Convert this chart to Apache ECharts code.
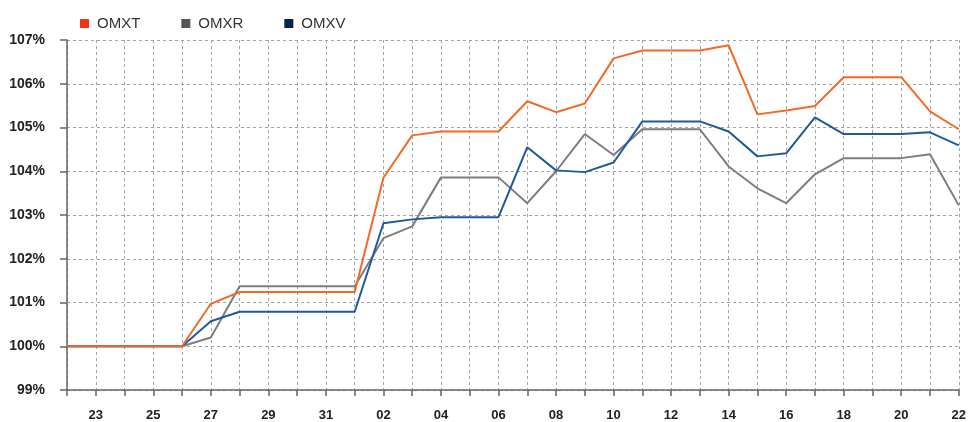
<!DOCTYPE html>
<html>
<head>
<meta charset="utf-8">
<script src="https://cdn.jsdelivr.net/npm/echarts@6/dist/echarts.min.js"></script>
<style>html,body{margin:0;padding:0;background:#fff}#c{width:969px;height:422px}</style>
</head>
<body>
<div id="c"></div>
<script>
var categories = ['22','23','24','25','26','27','28','29','30','31','01','02','03','04','05','06','07','08','09','10','11','12','13','14','15','16','17','18','19','20','21','22'];
var omxt = [100,100,100,100,100,100.97,101.24,101.24,101.24,101.24,101.24,103.85,104.82,104.91,104.91,104.91,105.6,105.35,105.55,106.58,106.76,106.76,106.76,106.88,105.3,105.39,105.49,106.15,106.15,106.15,105.37,104.96];
var omxr = [100,100,100,100,100,100.2,101.37,101.37,101.37,101.37,101.37,102.47,102.74,103.86,103.86,103.86,103.27,104.0,104.85,104.37,104.96,104.96,104.96,104.11,103.61,103.27,103.93,104.3,104.3,104.3,104.39,103.22];
var omxv = [100,100,100,100,100,100.57,100.79,100.79,100.79,100.79,100.79,102.81,102.9,102.95,102.95,102.95,104.55,104.02,103.98,104.2,105.14,105.14,105.14,104.91,104.34,104.41,105.23,104.85,104.85,104.85,104.89,104.59];
var yTicks = {min: 99, max: 107, interval: 1};

var chart = echarts.init(document.getElementById('c'));
var gridLine = {show: true, lineStyle: {color: '#9ea3aa', type: [3, 3], width: 1}};
chart.setOption({
  animation: false,
  legend: {
    left: 75, top: 11,
    itemWidth: 9, itemHeight: 9, itemGap: 41,
    icon: 'rect',
    textStyle: {fontFamily: 'Liberation Sans, Arial', fontSize: 15, color: '#333', padding: [0, 0, 0, 3]},
    data: [
      {name: 'OMXT', itemStyle: {color: '#ee3616'}},
      {name: 'OMXR', itemStyle: {color: '#555555'}},
      {name: 'OMXV', itemStyle: {color: '#0c1f55'}}
    ]
  },
  grid: {left: 67, right: 9, top: 40, bottom: 32, containLabel: false},
  xAxis: {
    type: 'category', data: categories, boundaryGap: false,
    axisLine: {lineStyle: {color: '#666', width: 1.5}},
    axisTick: {show: true, length: 6, interval: 0, lineStyle: {color: '#666', width: 1.5}},
    axisLabel: {
      interval: function (i) { return i % 2 === 1; },
      margin: 19, color: '#222', fontFamily: 'Liberation Sans, Arial', fontSize: 13, fontWeight: 'bold'
    },
    splitLine: Object.assign({interval: 0}, gridLine)
  },
  yAxis: {
    type: 'value', min: yTicks.min, max: yTicks.max, interval: yTicks.interval,
    axisLine: {show: true, lineStyle: {color: '#666', width: 1.5}},
    axisTick: {show: true, length: 7, lineStyle: {color: '#666', width: 1.5}},
    axisLabel: {formatter: '{value}%', margin: 22, color: '#222', fontFamily: 'Liberation Sans, Arial', fontSize: 14, fontWeight: 'bold'},
    splitLine: gridLine
  },
  series: [
    {name: 'OMXT', type: 'line', data: omxt, symbol: 'none', itemStyle: {color: '#ee3616'}, lineStyle: {color: '#f26a2a', width: 2}, z: 3},
    {name: 'OMXR', type: 'line', data: omxr, symbol: 'none', itemStyle: {color: '#555555'}, lineStyle: {color: '#7d7d7d', width: 2}, z: 1},
    {name: 'OMXV', type: 'line', data: omxv, symbol: 'none', itemStyle: {color: '#0c1f55'}, lineStyle: {color: '#1f5a9c', width: 2}, z: 2}
  ]
});
</script>
</body>
</html>
